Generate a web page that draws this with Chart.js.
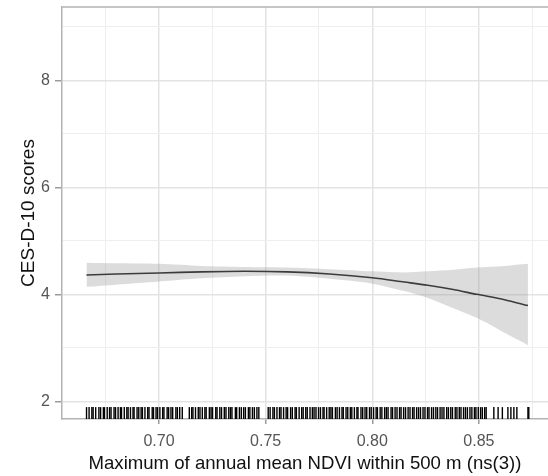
<!DOCTYPE html>
<html>
<head>
<meta charset="utf-8">
<script src="https://cdn.jsdelivr.net/npm/chart.js@4/dist/chart.umd.min.js"></script>
<style>
  html, body { margin: 0; padding: 0; background: #fff; }
  #wrap { width: 548px; height: 476px; position: relative; }
</style>
</head>
<body>
<div id="wrap"><canvas id="chart"></canvas></div>
<script>
// === Data ===
const ndvi  = [0.666, 0.680, 0.700, 0.720, 0.740, 0.760, 0.780, 0.800, 0.815, 0.826, 0.838, 0.849, 0.862, 0.873];
const fit   = [4.36, 4.38, 4.40, 4.42, 4.43, 4.42, 4.38, 4.31, 4.23, 4.17, 4.09, 4.00, 3.90, 3.79];
const upper = [4.59, 4.58, 4.57, 4.53, 4.51, 4.50, 4.47, 4.43, 4.41, 4.43, 4.46, 4.50, 4.53, 4.57];
const lower = [4.14, 4.18, 4.24, 4.30, 4.34, 4.35, 4.29, 4.20, 4.06, 3.93, 3.74, 3.56, 3.28, 3.05];

// observed NDVI values (rug)
const rugX = [
  0.6660, 0.6672, 0.6685, 0.6691, 0.6703, 0.6718, 0.6726, 0.6739, 0.6744, 0.6757, 0.6768, 0.6775,
  0.6789, 0.6796, 0.6808, 0.6819, 0.6824, 0.6837, 0.6849, 0.6855, 0.6866, 0.6878, 0.6883, 0.6897,
  0.6905, 0.6916, 0.6922, 0.6934, 0.6947, 0.6953, 0.6968, 0.6974, 0.6986, 0.6993, 0.7004, 0.7017,
  0.7023, 0.7038, 0.7045, 0.7056, 0.7064, 0.7079, 0.7086, 0.7097, 0.7109, 0.7142, 0.7153, 0.7159,
  0.7171, 0.7184, 0.7192, 0.7203, 0.7215, 0.7221, 0.7236, 0.7244, 0.7251, 0.7266, 0.7272, 0.7285,
  0.7293, 0.7306, 0.7314, 0.7327, 0.7335, 0.7342, 0.7358, 0.7364, 0.7377, 0.7386, 0.7397, 0.7405,
  0.7419, 0.7426, 0.7438, 0.7447, 0.7459, 0.7468, 0.7512, 0.7521, 0.7534, 0.7541, 0.7553, 0.7565,
  0.7572, 0.7584, 0.7596, 0.7603, 0.7617, 0.7625, 0.7638, 0.7644, 0.7657, 0.7669, 0.7676, 0.7688,
  0.7695, 0.7708, 0.7719, 0.7727, 0.7736, 0.7748, 0.7757, 0.7769, 0.7774, 0.7786, 0.7798, 0.7806,
  0.7813, 0.7827, 0.7835, 0.7846, 0.7858, 0.7864, 0.7877, 0.7885, 0.7897, 0.7904, 0.7916, 0.7928,
  0.7933, 0.7947, 0.7955, 0.7966, 0.7974, 0.7987, 0.7995, 0.8006, 0.8018, 0.8024, 0.8037, 0.8045,
  0.8058, 0.8066, 0.8074, 0.8088, 0.8095, 0.8107, 0.8116, 0.8128, 0.8135, 0.8147, 0.8156, 0.8168,
  0.8177, 0.8189, 0.8196, 0.8208, 0.8217, 0.8226, 0.8238, 0.8247, 0.8259, 0.8266, 0.8278, 0.8287,
  0.8298, 0.8306, 0.8318, 0.8327, 0.8336, 0.8349, 0.8357, 0.8368, 0.8376, 0.8389, 0.8397, 0.8408,
  0.8416, 0.8428, 0.8437, 0.8446, 0.8458, 0.8467, 0.8479, 0.8486, 0.8497, 0.8508, 0.8516, 0.8527,
  0.8534, 0.8570, 0.8590, 0.8610, 0.8636, 0.8650, 0.8664, 0.8678, 0.8730, 0.8734
];

const xTicks = [0.675, 0.70, 0.725, 0.75, 0.775, 0.80, 0.825, 0.85, 0.875];
const xLabels = ['', '0.70', '', '0.75', '', '0.80', '', '0.85', ''];
const yTicks = [2, 3, 4, 5, 6, 7, 8, 9];
const yLabels = ['2', '', '4', '', '6', '', '8', ''];

const X_MIN = 0.6545, X_MAX = 0.8824;
const Y_MIN = 1.67, Y_MAX = 9.37;
const RUG_Y = 1.78; // middle of the rug strip

// === Panel border on top (the right one is outside the picture) ===
const topBorder = {
    id: 'topBorder',
    afterDraw(chart) {
        const { ctx, chartArea } = chart;
        ctx.save();
        ctx.strokeStyle = '#b3b3b3';
        ctx.lineWidth = 1.5;
        ctx.beginPath();
        ctx.moveTo(chartArea.left, chartArea.top);
        ctx.lineTo(chartArea.right, chartArea.top);
        ctx.stroke();
        ctx.restore();
    }
};

const gridColor = ctx => (ctx.tick && ctx.tick.major) ? '#e3e3e3' : '#eeeeee';
const gridWidth = ctx => (ctx.tick && ctx.tick.major) ? 1.5 : 1;
const tickColor = ctx => (ctx.tick && ctx.tick.major) ? '#9a9a9a' : 'rgba(0,0,0,0)';
const noPad = s => { s.paddingLeft = 0; s.paddingRight = 0; s.paddingTop = 0; s.paddingBottom = 0; };

new Chart(document.getElementById('chart'), {
    type: 'scatter',
    data: {
        datasets: [
            {
                label: 'upper',
                type: 'line',
                data: ndvi.map((x, i) => ({ x, y: upper[i] })),
                borderWidth: 0,
                borderColor: 'rgba(0,0,0,0)',
                backgroundColor: 'rgba(150,150,150,0.33)',
                pointRadius: 0,
                tension: 0.3,
                fill: '+1'
            },
            {
                label: 'lower',
                type: 'line',
                data: ndvi.map((x, i) => ({ x, y: lower[i] })),
                borderWidth: 0,
                borderColor: 'rgba(0,0,0,0)',
                pointRadius: 0,
                tension: 0.3,
                fill: false
            },
            {
                label: 'fit',
                type: 'line',
                data: ndvi.map((x, i) => ({ x, y: fit[i] })),
                borderColor: '#111',
                borderWidth: 1.6,
                pointRadius: 0,
                tension: 0.3,
                fill: false
            },
            {
                label: 'rug',
                data: rugX.map(x => ({ x, y: RUG_Y })),
                pointStyle: 'line',
                rotation: 90,
                radius: 6,
                borderWidth: 1.4,
                borderColor: '#000'
            }
        ]
    },
    options: {
        responsive: true,
        maintainAspectRatio: false,
        animation: false,
        layout: { autoPadding: false, padding: { top: 7, right: 0, bottom: 0, left: 0 } },
        plugins: { legend: { display: false }, tooltip: { enabled: false } },
        scales: {
            x: {
                type: 'linear',
                min: X_MIN,
                max: X_MAX,
                afterBuildTicks: axis => {
                    axis.ticks = xTicks.map((v, i) => ({ value: v, major: xLabels[i] !== '' }));
                },
                afterFit: s => { s.height = 57; noPad(s); },
                grid: { color: gridColor, lineWidth: gridWidth, tickLength: 5, tickColor: tickColor },
                border: { color: '#b3b3b3', width: 1.5 },
                ticks: {
                    autoSkip: false,
                    maxRotation: 0,
                    padding: 8,
                    color: '#555',
                    font: { family: 'Liberation Sans, Arial, sans-serif', size: 16 },
                    callback: (v, i) => xLabels[i]
                },
                title: {
                    display: true,
                    text: 'Maximum of annual mean NDVI within 500 m (ns(3))',
                    color: '#111',
                    font: { family: 'Liberation Sans, Arial, sans-serif', size: 18.6 },
                    padding: { top: 0, bottom: 1 }
                }
            },
            y: {
                min: Y_MIN,
                max: Y_MAX,
                afterBuildTicks: axis => {
                    axis.ticks = yTicks.map((v, i) => ({ value: v, major: yLabels[i] !== '' }));
                },
                afterFit: s => { s.width = 62; noPad(s); },
                grid: { color: gridColor, lineWidth: gridWidth, tickLength: 7, tickColor: tickColor },
                border: { color: '#b3b3b3', width: 1.5 },
                ticks: {
                    autoSkip: false,
                    padding: 5,
                    color: '#555',
                    font: { family: 'Liberation Sans, Arial, sans-serif', size: 16 },
                    callback: (v, i) => yLabels[i]
                },
                title: {
                    display: true,
                    text: 'CES-D-10 scores',
                    color: '#111',
                    font: { family: 'Liberation Sans, Arial, sans-serif', size: 19 },
                    padding: { top: 17, bottom: 0 }
                }
            }
        }
    },
    plugins: [topBorder]
});
</script>
</body>
</html>
